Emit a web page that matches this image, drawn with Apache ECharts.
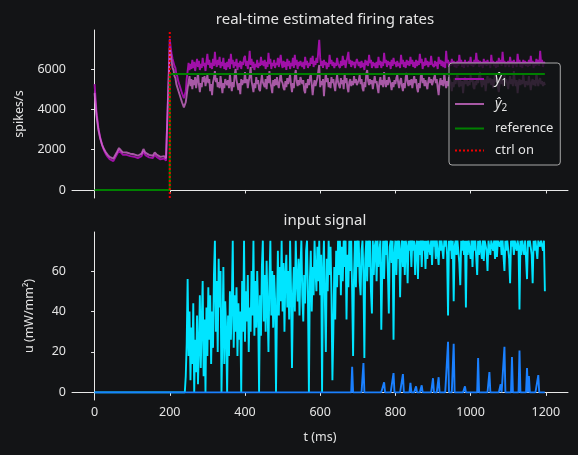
<!DOCTYPE html>
<html>
<head>
<meta charset="utf-8">
<script src="https://cdn.jsdelivr.net/npm/echarts@6/dist/echarts.min.js"></script>
<style>
html,body{margin:0;padding:0;background:#131416;}
#c{width:578px;height:455px;}
</style>
</head>
<body>
<div id="c"></div>
<script>
// ---- data ----
// time grids (ms): coarse before control onset, fine after
const tPre = [];  for (let i = 0; i < 40; i++) tPre.push(i * 5);          // 0 .. 195
const tPost = []; for (let i = 0; i < 400; i++) tPost.push(200 + i * 2.5); // 200 .. 1197.5

// estimated firing rate y1 (spikes/s)
const y1Pre = [
  5250,3900,3100,2600,2220,1970,1780,1640,1530,1450,
  1430,1520,1780,1960,1880,1750,1700,1740,1660,1680,
  1620,1650,1600,1580,1620,1680,1910,1730,1660,1620,
  1680,1580,1740,1640,1580,1520,1500,1560,1450,1400
];
const y1Post = [
  7500,7050,6750,6500,6450,6150,6050,5750,5650,5400,5350,5100,5050,4800,4750,4550,4600,4900,5500,5900,
  6300,5950,6250,6000,6450,6050,6350,5900,6200,6500,6100,6400,5950,6250,6050,6550,6150,6300,5900,6350,
  6750,6200,6450,6050,6300,6000,6500,6150,6850,6300,6100,6450,6200,6600,6050,6350,6150,6550,6000,6300,
  5950,6350,6100,6500,6000,6750,6250,6450,6050,6350,6150,6500,5950,6300,6100,6400,6000,6350,6200,6550,
  6650,6150,6400,6000,6300,6900,6200,6500,6050,6350,5950,6250,6100,6450,6050,6300,6150,6600,6200,6400,
  6150,6450,6000,6350,6100,6800,6250,6500,6000,6300,6150,6450,6050,6300,6200,6550,6100,6400,6700,6250,
  6050,6400,6100,6350,5950,6500,6150,6400,6000,6300,6150,6550,6050,6700,6200,6450,6000,6350,6150,6400,
  6450,6100,6350,6000,6600,6200,6400,6050,6300,6150,6550,6250,6650,6100,6400,6200,6550,6300,6900,7450,
  6550,6150,6400,6050,6450,6200,6350,6000,6300,6100,6700,6250,6450,6150,6350,6050,6300,6150,6550,6250,
  6250,6050,6400,6150,6650,6200,6450,6050,6350,6600,6850,6250,6450,6100,6400,6200,6350,6050,6300,6500,
  6550,6150,6350,6050,6400,6100,6300,5950,6450,6200,6400,6150,6700,6300,6450,6050,6350,6150,6300,6050,
  6350,6050,6600,6200,6400,6050,6350,6150,6800,6300,6450,6100,6400,6200,6350,6000,6450,6150,6550,6250,
  6350,6100,6400,6150,6300,6050,6700,6250,6450,6100,6350,6050,6450,6200,6400,6150,6600,6250,6450,6100,
  6350,6050,6450,6150,6400,6200,6750,6300,6500,6000,6350,6150,6550,6200,6400,6100,6350,6200,6650,6250,
  6300,6100,6400,6150,6350,6000,6600,6250,6450,6150,6400,6100,6350,6050,6900,6300,6450,6100,6350,6150,
  6500,6200,6400,6100,6350,6050,6400,6150,6700,6250,6450,6100,6350,6050,6450,6200,6350,6100,6400,6200,
  6600,6150,6350,6100,6450,6200,6800,6300,6450,6100,6400,6150,6350,6050,6500,6200,6400,6150,6450,6200,
  6350,6050,6700,6250,6400,6150,6350,6050,6400,6100,6550,6250,6450,6150,6850,6300,6400,6100,6350,6200,
  6400,6100,6600,6250,6400,6050,6450,6200,6350,6100,6750,6300,6450,6100,6350,6050,6450,6200,6400,6150,
  6350,6100,6450,6150,6650,6250,6400,6050,6350,6150,6500,6200,6450,6150,6900,6300,6450,6100,6350,6250
];

// estimated firing rate y2 (spikes/s)
const y2Pre = [
  4800,3700,3000,2550,2250,2030,1870,1740,1640,1570,
  1560,1650,1900,2080,2000,1870,1820,1860,1780,1800,
  1740,1770,1720,1700,1740,1800,2030,1850,1780,1740,
  1800,1700,1860,1760,1700,1640,1620,1680,1570,1520
];
const y2Post = [
  7050,6650,6350,6050,5950,5650,5550,5250,5200,4950,4900,4650,4600,4350,4300,4100,4150,4350,4700,5050,
  5350,5650,5150,5500,5000,5450,5200,5600,5050,5400,5800,5250,4850,5300,5100,5600,5350,5650,5150,5450,
  5700,5300,5500,4900,5250,4700,5350,5550,5900,5350,5550,5100,5350,5050,5650,5250,4800,5300,5050,5500,
  5550,5200,5450,5050,5750,5250,4900,5350,5100,5700,6000,5450,5200,4950,5300,4750,5500,5200,5450,5300,
  5850,5300,5500,5050,5400,5650,6100,5400,5150,4850,5300,5050,5600,5250,5450,5000,4900,5350,5700,5350,
  5400,5100,5500,5000,5650,5300,5900,5350,5100,4800,5450,5150,5500,5200,5600,5250,5050,5450,5800,5400,
  5300,5050,4950,5400,5100,5550,5250,5500,5700,5200,4850,5300,5050,5650,5950,5400,5150,5450,5200,5600,
  5600,5250,5450,4950,4800,5300,5050,5500,5200,5550,5750,5250,4700,5150,5450,5150,5350,5550,5900,6200,
  5100,5400,5200,5500,4650,5300,5800,5350,5550,5100,5350,5050,5600,5300,5500,5150,4900,5400,5700,5350,
  5300,5050,5550,5250,5450,5000,5750,5300,5550,5050,4850,5350,5500,5150,5400,5200,5650,5300,5500,5200,
  5150,5450,5700,5250,5500,5050,4900,5350,5100,5750,5950,5400,5200,5500,5250,5450,5000,5350,5650,5300,
  5400,5050,4800,5350,5600,5200,5450,5100,5850,5350,5100,5450,5200,5600,5650,5250,4950,5350,5100,5450,
  5250,5550,5700,5300,5050,5400,5550,5150,4900,5300,5050,5600,5800,5350,5150,5450,5200,5500,5050,5400,
  5650,5300,5500,5050,4850,5300,5050,5650,5750,5300,5550,5150,5450,5200,5000,5400,5600,5300,5500,5200,
  5250,5550,5700,5300,5500,5050,4700,5300,5550,5200,5450,5150,5800,5400,5050,5400,5150,5600,5650,5300,
  4900,5350,5100,5550,5250,5550,5750,5300,5100,5450,5150,5400,4800,5300,5600,5250,5450,5150,5400,5200,
  5700,5350,5550,5100,5000,5400,5200,5550,5300,5650,5850,5400,5100,5450,5200,5500,4900,5350,5650,5300,
  5300,5550,5200,5500,5050,5400,5800,5350,5550,5100,4850,5350,5600,5250,5450,5150,5700,5350,5500,5250,
  5000,5400,5650,5250,5500,5150,5900,5400,5150,5450,4800,5300,5500,5200,5450,5250,5750,5350,5100,5400,
  5450,5200,5650,5300,4950,5350,5500,5200,5450,5150,5800,5400,5150,5450,5550,5250,5400,5150,5350,5200
];

// reference firing rate before / after control onset, and control onset time
const refBefore = 0;
const refAfter = 5750;
const ctrlOn = 200;

// input signal: zero until uStart, then sampled every uStep ms
const uStart = 240, uStep = 2.5;
// u1 (cyan), mW/mm^2
const u1 = [
  0,8,24,56,18,40,6,32,14,44,0,26,10,38,4,22,48,12,35,55,
  8,36,0,42,18,52,26,48,14,40,22,58,75,30,55,20,66,42,60,0,
  28,62,14,45,30,0,38,18,50,26,44,75,22,48,30,52,18,44,26,40,
  0,55,30,75,25,50,35,58,20,42,30,60,38,75,28,55,32,60,40,0,
  48,28,62,75,35,58,30,65,42,20,55,75,38,60,32,58,46,0,40,70,
  38,62,45,75,40,64,30,58,68,42,60,36,75,50,12,48,62,40,75,55,
  45,66,38,62,75,48,35,58,44,70,75,46,0,55,70,40,62,48,75,60,
  50,72,55,75,48,68,0,60,75,45,20,66,50,75,58,72,48,6,30,62,
  36,70,52,75,58,75,48,72,55,75,62,75,36,68,52,75,60,75,50,18,
  58,75,52,75,62,75,55,48,70,75,58,17,66,75,55,75,62,75,50,39,
  75,58,72,75,55,75,62,70,75,31,60,75,56,75,68,75,60,39,72,75,
  64,75,26,68,75,58,75,66,75,47,70,75,62,75,58,75,72,54,75,70,
  75,62,75,70,75,58,72,75,56,75,68,75,62,75,70,75,61,75,66,75,
  75,68,75,63,75,72,75,66,75,75,63,75,70,75,75,66,75,72,75,68,
  38,75,70,75,66,75,45,72,75,68,75,75,64,53,75,70,75,68,75,42,
  75,68,75,75,66,75,62,75,70,75,75,58,75,68,75,75,66,75,65,75,
  75,70,60,75,75,68,75,75,70,75,66,75,67,75,75,72,75,68,75,75,
  60,75,70,75,75,66,54,75,72,75,68,75,75,70,75,72,41,75,68,75,
  75,68,75,66,56,75,72,75,75,68,54,75,70,75,75,66,75,75,72,75,
  75,70,75,50
];
// u2 (blue): spike times (ms) and heights, zero elsewhere
const u2SpikeT = [685,715,770,795,820,840,855,870,900,915,940,955,985,1020,1050,1080,1090,1110,1130,1150,1155,1180];
const u2SpikeV = [12.7,14.5,5,9.5,9,4.7,3,3.5,7,7.5,25,24,3,17,10,4,22.5,17.5,20.7,12,8,8.5];

// tick labels
const xTicks = [0,200,400,600,800,1000,1200];
const yTicksTop = [0,2000,4000,6000];
const yTicksBot = [0,20,40,60];

// ---- build ----
const join = (pre, post) => tPre.map((x, i) => [x, pre[i]]).concat(tPost.map((x, i) => [x, post[i]]));
const uT = u1.map((_, i) => uStart + i * uStep);
const u1Data = [[0, 0]].concat(uT.map((x, i) => [x, u1[i]]));
const u2Data = [[0, 0]].concat(uT.map(x => { const k = u2SpikeT.indexOf(x); return [x, k >= 0 ? u2SpikeV[k] : 0]; }));
const tEnd = tPost[tPost.length - 1];
const refData = [[0, refBefore], [ctrlOn, refBefore], [ctrlOn, refAfter], [tEnd, refAfter]];

const topMin = -397, topMax = 7934;
const botMin = -3.78, botMax = 79.28;
const FONT = 'Noto Sans';
const TXT = '#e4e4e4';
const AX = '#e8e8e8';
const LW = 1.9;

function xAxisCfg(idx, showLabels) {
  return {
    type: 'value', gridIndex: idx, min: -60, max: 1259,
    axisLine: {show: true, lineStyle: {color: AX, width: 1}},
    axisTick: {show: true, length: 3.5, lineStyle: {color: AX}, customValues: xTicks},
    axisLabel: {show: showLabels, color: TXT, fontFamily: FONT, fontSize: 12.5, margin: 6,
      customValues: xTicks, formatter: v => String(v)},
    splitLine: {show: false},
    name: showLabels ? 't (ms)' : '', nameLocation: 'middle', nameGap: 31,
    nameTextStyle: {color: TXT, fontFamily: FONT, fontSize: 12.5}
  };
}
function yAxisCfg(idx, mn, mx, ticks, name, gap) {
  return {
    type: 'value', gridIndex: idx, min: mn, max: mx,
    axisLine: {show: true, lineStyle: {color: AX, width: 1}},
    axisTick: {show: true, length: 3.5, lineStyle: {color: AX}, customValues: ticks},
    axisLabel: {color: TXT, fontFamily: FONT, fontSize: 12.5, margin: 6, customValues: ticks,
      formatter: v => String(v)},
    splitLine: {show: false},
    name: name, nameLocation: 'middle', nameGap: gap, nameRotate: 90,
    nameTextStyle: {color: TXT, fontFamily: FONT, fontSize: 12.5}
  };
}

const chart = echarts.init(document.getElementById('c'), null, {renderer: 'canvas'});
chart.setOption({
  backgroundColor: '#131416',
  animation: false,
  title: [
    {text: 'real-time estimated firing rates', left: 320, top: 7, textAlign: 'center',
     textStyle: {color: TXT, fontFamily: FONT, fontSize: 15, fontWeight: 'normal'}},
    {text: 'input signal', left: 320, top: 208, textAlign: 'center',
     textStyle: {color: TXT, fontFamily: FONT, fontSize: 15, fontWeight: 'normal'}}
  ],
  grid: [
    {left: 72, width: 496, top: 30, height: 168},
    {left: 72, width: 496, top: 232, height: 168}
  ],
  xAxis: [xAxisCfg(0, false), xAxisCfg(1, true)],
  yAxis: [
    yAxisCfg(0, topMin, topMax, yTicksTop, 'spikes/s', 46),
    yAxisCfg(1, botMin, botMax, yTicksBot, 'u (mW/mm²)', 36)
  ],
  legend: {
    data: ['y1', 'y2', 'reference', 'ctrl on'],
    orient: 'vertical', left: 449, top: 63,
    padding: [9, 7, 8, 5], itemGap: 9, itemWidth: 29, itemHeight: 14,
    itemStyle: {opacity: 0},
    backgroundColor: 'rgba(19,20,22,0.8)', borderColor: '#a8a8a8', borderWidth: 1, borderRadius: 3,
    textStyle: {color: TXT, fontFamily: FONT, fontSize: 13, padding: [0, 0, 0, 6],
      rich: {
        it: {fontStyle: 'italic', fontSize: 14, color: TXT, fontFamily: FONT},
        sub: {fontSize: 10, color: TXT, fontFamily: FONT, padding: [8, 0, 0, 0]}
      }},
    formatter: (n) => n === 'y1' ? '{it|ŷ}{sub|1}' : n === 'y2' ? '{it|ŷ}{sub|2}' : n
  },
  series: [
    {name: 'y1', type: 'line', xAxisIndex: 0, yAxisIndex: 0, data: join(y1Pre, y1Post), symbol: 'none', showSymbol: false,
     lineStyle: {color: '#a010a8', width: LW}, itemStyle: {color: '#a010a8'}, z: 2},
    {name: 'y2', type: 'line', xAxisIndex: 0, yAxisIndex: 0, data: join(y2Pre, y2Post), symbol: 'none', showSymbol: false,
     lineStyle: {color: '#da70d6', width: LW, opacity: 0.75}, itemStyle: {color: '#da70d6'}, z: 3},
    {name: 'reference', type: 'line', xAxisIndex: 0, yAxisIndex: 0, data: refData, symbol: 'none', showSymbol: false,
     lineStyle: {color: '#008000', width: 2}, itemStyle: {color: '#008000'}, z: 4},
    {name: 'ctrl on', type: 'line', xAxisIndex: 0, yAxisIndex: 0, data: [[ctrlOn, topMin], [ctrlOn, topMax]], symbol: 'none', showSymbol: false,
     lineStyle: {color: '#ee0000', width: 2, type: [2, 2]}, itemStyle: {color: '#ee0000'}, z: 5},
    {name: 'u1', type: 'line', xAxisIndex: 1, yAxisIndex: 1, data: u1Data, symbol: 'none', showSymbol: false,
     lineStyle: {color: '#00e5ff', width: LW}, z: 2},
    {name: 'u2', type: 'line', xAxisIndex: 1, yAxisIndex: 1, data: u2Data, symbol: 'none', showSymbol: false,
     lineStyle: {color: '#1a80ff', width: LW}, z: 3}
  ]
});
</script>
</body>
</html>
